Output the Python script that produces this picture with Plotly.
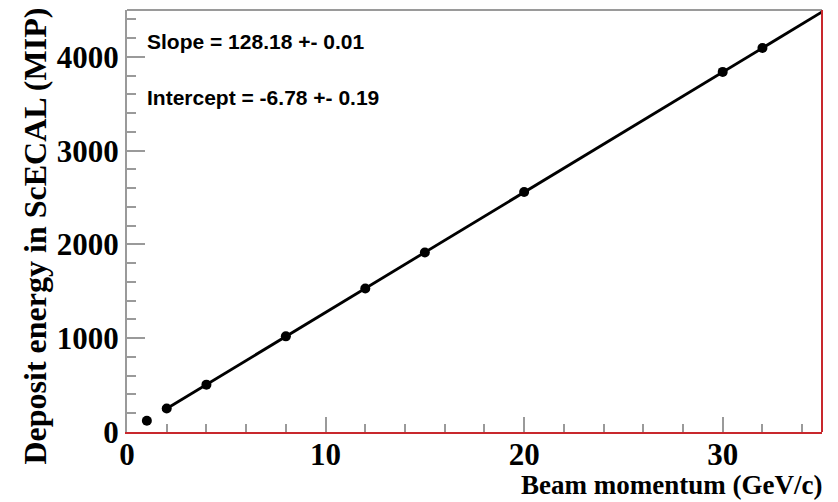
import plotly.graph_objects as go

# data
momentum = [1, 2, 4, 8, 12, 15, 20, 30, 32]
energy = [120, 250, 505, 1020, 1530, 1915, 2560, 3840, 4095]
slope = 128.18
intercept = -6.78
fit_x = [1.8, 35]
fit_y = [slope * x + intercept for x in fit_x]

serif = "Liberation Serif, Times New Roman, serif"
sans = "Liberation Sans, Arial, sans-serif"
gray = "#9a9a9a"
red = "#c8282d"

fig = go.Figure()
fig.add_trace(go.Scatter(x=fit_x, y=fit_y, mode="lines",
                         line=dict(color="black", width=2.8), showlegend=False))
fig.add_trace(go.Scatter(x=momentum, y=energy, mode="markers",
                         marker=dict(color="black", size=10), showlegend=False))

tickfont = dict(family=serif, size=31, color="black", weight="bold")

fig.update_layout(
    width=838, height=502,
    margin=dict(l=127, r=16, t=10, b=70),
    paper_bgcolor="white", plot_bgcolor="white",
    xaxis=dict(range=[0, 35], showgrid=False, zeroline=False,
               showline=True, linecolor=red, linewidth=2,
               ticks="inside", ticklen=15, tickwidth=1.5, tickcolor=gray,
               dtick=10, tick0=0, ticklabelstandoff=-6,
               minor=dict(ticks="inside", ticklen=8, tickcolor=gray, dtick=2, tickwidth=1.5),
               tickfont=tickfont),
    yaxis=dict(range=[0, 4500], showgrid=False, zeroline=False,
               showline=True, linecolor=gray, linewidth=2,
               ticks="inside", ticklen=18, tickwidth=1.5, tickcolor=gray,
               dtick=1000, tick0=0,
               minor=dict(ticks="inside", ticklen=9, tickcolor=gray, dtick=200, tickwidth=1.5),
               tickfont=tickfont),
    shapes=[
        dict(type="line", xref="paper", yref="paper", x0=0, x1=1, y0=1, y1=1,
             line=dict(color=gray, width=2)),
        dict(type="line", xref="paper", yref="paper", x0=1, x1=1, y0=0, y1=1,
             line=dict(color=red, width=2)),
    ],
    annotations=[
        dict(text="<b>Slope = 128.18 +- 0.01</b>", xref="paper", yref="paper",
             x=0.026, y=0.925, xanchor="left", yanchor="middle", showarrow=False,
             font=dict(family=sans, size=21, color="black")),
        dict(text="<b>Intercept = -6.78 +- 0.19</b>", xref="paper", yref="paper",
             x=0.026, y=0.792, xanchor="left", yanchor="middle", showarrow=False,
             font=dict(family=sans, size=21, color="black")),
        dict(text="<b>Beam momentum (GeV/c)</b>", xref="paper", yref="paper",
             x=1, y=0, xanchor="right", yanchor="top", yshift=-36, xshift=2,
             showarrow=False, font=dict(family=serif, size=27, color="black")),
        dict(text="<b>Deposit energy in ScECAL (MIP)</b>", xref="paper", yref="paper",
             x=(34 - 127) / 695, y=1, xanchor="center", yanchor="top", yshift=4,
             textangle=-90, showarrow=False,
             font=dict(family=serif, size=32, color="black")),
    ],
)

fig.write_html("out.html")
